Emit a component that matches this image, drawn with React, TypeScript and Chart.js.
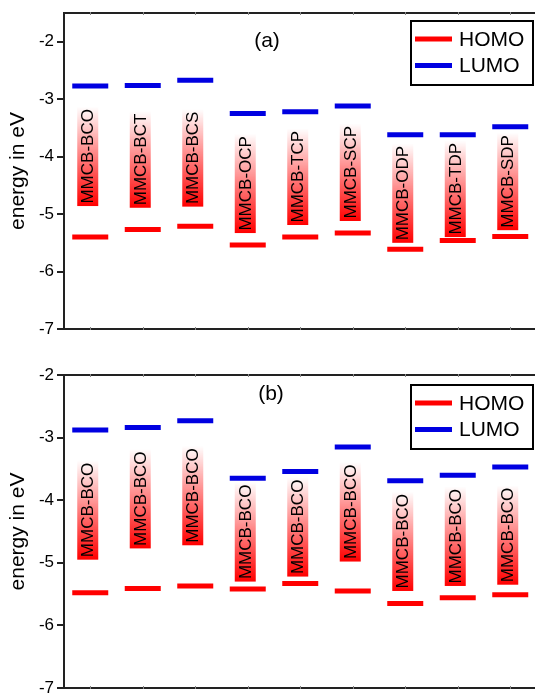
import React, { useEffect, useRef } from "react";
import { Chart, registerables } from "chart.js";

Chart.register(...registerables);

// ---------- data ----------
const categories = ["1", "2", "3", "4", "5", "6", "7", "8", "9"];
const seriesNames = ["HOMO", "LUMO"];
const yTicks = [-7, -6, -5, -4, -3, -2];

const labelsA = ["MMCB-BCO", "MMCB-BCT", "MMCB-BCS", "MMCB-OCP", "MMCB-TCP", "MMCB-SCP", "MMCB-ODP", "MMCB-TDP", "MMCB-SDP"];
const homoA = [-5.40, -5.27, -5.21, -5.54, -5.40, -5.33, -5.61, -5.46, -5.39];
const lumoA = [-2.77, -2.76, -2.67, -3.25, -3.22, -3.12, -3.62, -3.62, -3.48];
const boxBottomA = [-4.86, -4.89, -4.87, -5.33, -5.19, -5.12, -5.50, -5.40, -5.28];

const labelsB = ["MMCB-BCO", "MMCB-BCO", "MMCB-BCO", "MMCB-BCO", "MMCB-BCO", "MMCB-BCO", "MMCB-BCO", "MMCB-BCO", "MMCB-BCO"];
const homoB = [-5.48, -5.41, -5.37, -5.42, -5.33, -5.45, -5.65, -5.56, -5.51];
const lumoB = [-2.88, -2.84, -2.73, -3.65, -3.54, -3.15, -3.69, -3.60, -3.47];
const boxBottomB = [-4.95, -4.77, -4.72, -5.30, -5.22, -4.98, -5.45, -5.37, -5.35];

const RED = "rgb(255,0,0)";
const BLUE = "rgb(0,0,225)";
const FONT = '"Liberation Sans", Arial, sans-serif';

type PanelProps = {
  homo: number[];
  lumo: number[];
  boxLabels: string[];
  boxBottom: number[];
  yMin: number;
  yMax: number;
  height: number;
  padTop: number;
  padBottom: number;
  panelLabel: string;
  panelLabelX: number;
  panelLabelY: number;
  legendTop: number;
};

function Panel(p: PanelProps) {
  const ref = useRef<HTMLCanvasElement | null>(null);

  useEffect(() => {
    if (!ref.current) return;

    const boxesPlugin = {
      id: "levelBoxes",
      beforeDatasetsDraw(chart: any) {
        const ctx = chart.ctx;
        const xs = chart.scales.x;
        const ys = chart.scales.y;
        ctx.save();
        ctx.font = `17px ${FONT}`;
        p.boxLabels.forEach((t, i) => {
          const cx = xs.getPixelForValue(i) - 2.5;
          const yb = ys.getPixelForValue(p.boxBottom[i]);
          const tw = ctx.measureText(t).width;
          const h = tw + 5;
          const w = 21;
          const g = ctx.createLinearGradient(0, yb - h, 0, yb);
          g.addColorStop(0, "rgba(255,0,0,0)");
          g.addColorStop(1, "rgba(255,0,0,1)");
          ctx.fillStyle = g;
          ctx.fillRect(cx - w / 2, yb - h, w, h);
          ctx.save();
          ctx.translate(cx + 1, yb - 2.5);
          ctx.rotate(-Math.PI / 2);
          ctx.textAlign = "left";
          ctx.textBaseline = "middle";
          ctx.fillStyle = "#000";
          ctx.fillText(t, 0, 0);
          ctx.restore();
        });
        ctx.restore();
      },
    };

    const decorPlugin = {
      id: "decor",
      afterDraw(chart: any) {
        const ctx = chart.ctx;
        const { left, top, right, bottom } = chart.chartArea;
        const xs = chart.scales.x;
        ctx.save();
        // frame
        ctx.strokeStyle = "#222";
        ctx.lineWidth = 2;
        ctx.beginPath();
        ctx.moveTo(left, bottom);
        ctx.lineTo(left, top);
        ctx.lineTo(right, top);
        ctx.lineTo(right, bottom);
        ctx.closePath();
        ctx.stroke();
        // tiny category ticks
        ctx.lineWidth = 1;
        ctx.strokeStyle = "#888";
        categories.forEach((_, i) => {
          const x = Math.round(xs.getPixelForValue(i)) + 0.5;
          ctx.beginPath();
          ctx.moveTo(x, top - 1);
          ctx.lineTo(x, top + 2);
          ctx.moveTo(x, bottom + 1);
          ctx.lineTo(x, bottom - 2);
          ctx.stroke();
        });
        // legend
        const lx = 411;
        const ly = p.legendTop;
        ctx.strokeStyle = "#000";
        ctx.lineWidth = 2;
        ctx.strokeRect(lx, ly, 122, 64);
        ctx.font = `21px ${FONT}`;
        ctx.textAlign = "left";
        ctx.textBaseline = "middle";
        chart.data.datasets.forEach((ds: any, i: number) => {
          const yy = ly + 18 + i * 26.5;
          ctx.strokeStyle = ds.borderColor;
          ctx.lineWidth = 5;
          ctx.beginPath();
          ctx.moveTo(lx + 4, yy);
          ctx.lineTo(lx + 41, yy);
          ctx.stroke();
          ctx.fillStyle = "#000";
          ctx.fillText(ds.label, lx + 48, yy + 1);
        });
        // panel label
        ctx.font = `21px ${FONT}`;
        ctx.textAlign = "center";
        ctx.textBaseline = "middle";
        ctx.fillStyle = "#000";
        ctx.fillText(p.panelLabel, p.panelLabelX, p.panelLabelY);
        ctx.restore();
      },
    };

    const mkDs = (label: string, data: number[], color: string) => ({
      label,
      data,
      borderColor: color,
      backgroundColor: color,
      pointBorderColor: color,
      pointBackgroundColor: color,
      showLine: false,
      pointStyle: "line",
      pointRadius: 18,
      pointHoverRadius: 18,
      pointBorderWidth: 5,
      pointHoverBorderWidth: 5,
    });

    const chart = new Chart(ref.current, {
      type: "line",
      data: {
        labels: categories,
        datasets: [mkDs(seriesNames[0], p.homo, RED), mkDs(seriesNames[1], p.lumo, BLUE)],
      },
      options: {
        animation: false,
        responsive: false,
        events: [],
        layout: { autoPadding: false, padding: { left: 0, right: 8.5, top: p.padTop, bottom: p.padBottom } },
        plugins: { legend: { display: false }, tooltip: { enabled: false } },
        scales: {
          x: { type: "category", offset: true, display: false },
          y: {
            min: p.yMin,
            max: p.yMax,
            afterBuildTicks: (s: any) => {
              s.ticks = yTicks.filter((v) => v >= p.yMin && v <= p.yMax).map((v) => ({ value: v }));
            },
            ticks: { font: { family: FONT, size: 17 }, color: "#000", padding: 3 },
            grid: { drawOnChartArea: false, tickLength: 7, color: "#222", lineWidth: 2 },
            border: { display: false },
            title: {
              display: true,
              text: "energy in eV",
              color: "#000",
              font: { family: FONT, size: 21 },
              padding: { top: 6, bottom: 0 },
            },
            afterFit: (s: any) => {
              s.width = 64;
              s.paddingTop = 0;
              s.paddingBottom = 0;
            },
          },
        },
      } as any,
      plugins: [boxesPlugin, decorPlugin],
    });

    return () => chart.destroy();
  }, []);

  return <canvas ref={ref} width={545} height={p.height} style={{ display: "block" }} />;
}

export default function App() {
  return (
    <div style={{ position: "absolute", left: 0, top: 0, width: 535, height: 695, overflow: "hidden", background: "#fff" }}>
      <div style={{ position: "absolute", left: 0, top: 0 }}>
        <Panel
          homo={homoA}
          lumo={lumoA}
          boxLabels={labelsA}
          boxBottom={boxBottomA}
          yMin={-7}
          yMax={-1.5}
          height={345}
          padTop={13}
          padBottom={16}
          panelLabel="(a)"
          panelLabelX={267}
          panelLabelY={41}
          legendTop={21}
        />
      </div>
      <div style={{ position: "absolute", left: 0, top: 345 }}>
        <Panel
          homo={homoB}
          lumo={lumoB}
          boxLabels={labelsB}
          boxBottom={boxBottomB}
          yMin={-7}
          yMax={-2}
          height={350}
          padTop={30}
          padBottom={7}
          panelLabel="(b)"
          panelLabelX={271}
          panelLabelY={49}
          legendTop={40}
        />
      </div>
    </div>
  );
}
